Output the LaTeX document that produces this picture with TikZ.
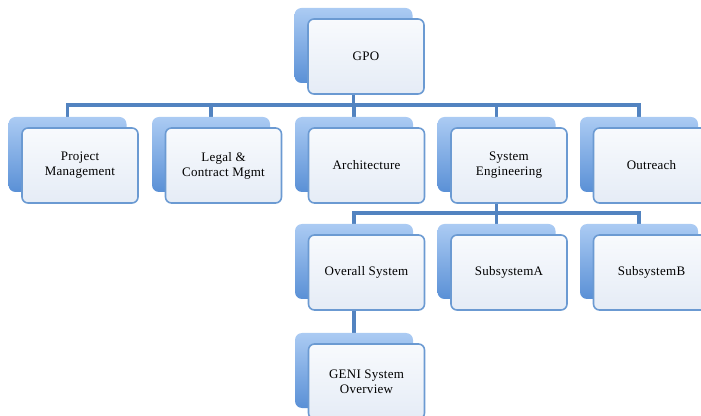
\documentclass[tikz,border=0pt]{standalone}
\usepackage{fontspec}
\setmainfont{Liberation Serif}
\newfontfamily\orgfont[LetterSpace=2]{Liberation Serif}
\usetikzlibrary{backgrounds}
\definecolor{OrgBackTop}{HTML}{ABCBF3}
\definecolor{OrgBackBot}{HTML}{5A90D6}
\definecolor{OrgFaceTop}{HTML}{F8FAFD}
\definecolor{OrgFaceBot}{HTML}{E5ECF6}
\definecolor{OrgEdge}{HTML}{6B9AD2}
\definecolor{OrgLink}{HTML}{5283C0}

\tikzset{
  backbox/.style={rectangle,rounded corners=7pt,minimum width=118pt,minimum height=75pt,
    top color=OrgBackTop,bottom color=OrgBackBot,draw=none},
  facebox/.style={rectangle,rounded corners=6pt,minimum width=116pt,minimum height=75pt,
    top color=OrgFaceTop,bottom color=OrgFaceBot,draw=OrgEdge,line width=1.6pt,
    align=center,font=\orgfont\fontsize{13}{15}\selectfont},
  link/.style={draw=OrgLink,line width=3.5pt}
}

\begin{document}
\begin{tikzpicture}[x=1pt,y=1pt]
\path[use as bounding box] (0,0) rectangle (701,415);
% top
\node[backbox] (gpo-b) at (353.5,369.5) {};
\node[facebox] (gpo) at (366,358.5) {GPO};
% second row
\node[backbox] (pm-b) at (67.5,260.5) {};
\node[facebox] (pm) at (80,249.5) {Project\\Management};
\node[backbox] (legal-b) at (211,260.5) {};
\node[facebox] (legal) at (223.5,249.5) {Legal \&\\Contract Mgmt};
\node[backbox] (arch-b) at (354,260.5) {};
\node[facebox] (arch) at (366.5,249.5) {Architecture};
\node[backbox] (syseng-b) at (496.5,260.5) {};
\node[facebox] (syseng) at (509,249.5) {System\\Engineering};
\node[backbox] (outreach-b) at (639,260.5) {};
\node[facebox] (outreach) at (651.5,249.5) {Outreach};
% third row
\node[backbox] (overall-b) at (354,153.5) {};
\node[facebox] (overall) at (366.5,142.5) {Overall System};
\node[backbox] (subA-b) at (496.5,153.5) {};
\node[facebox] (subA) at (509,142.5) {SubsystemA};
\node[backbox] (subB-b) at (639,153.5) {};
\node[facebox] (subB) at (651.5,142.5) {SubsystemB};
% fourth row
\node[backbox] (geni-b) at (354,44.5) {};
\node[facebox] (geni) at (366.5,33.5) {GENI System\\Overview};
% connectors
\coordinate (bus1) at (0,310);
\coordinate (bus2) at (0,202);
\begin{pgfonlayer}{background}
\foreach \c in {pm,legal,arch,syseng,outreach}
  \draw[link] (gpo-b.center) -- (gpo-b.center |- bus1) -| (\c-b.north);
\foreach \c in {overall,subA,subB}
  \draw[link] (syseng-b.center) -- (syseng-b.center |- bus2) -| (\c-b.north);
\draw[link] (overall-b.center) -- (geni-b.north);
\end{pgfonlayer}
\end{tikzpicture}
\end{document}
